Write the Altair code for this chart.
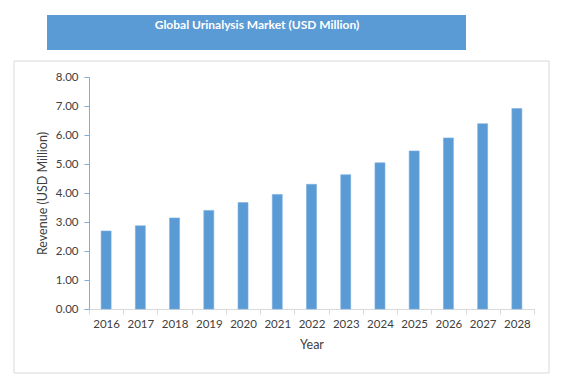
import altair as alt
import pandas as pd

years = ["2016", "2017", "2018", "2019", "2020", "2021", "2022",
         "2023", "2024", "2025", "2026", "2027", "2028"]
revenue = [2.69, 2.87, 3.14, 3.40, 3.67, 3.95, 4.30,
           4.63, 5.04, 5.45, 5.90, 6.39, 6.91]
y_ticks = [0, 1, 2, 3, 4, 5, 6, 7, 8]
chart_title = "Global Urinalysis Market (USD Million)"

df = pd.DataFrame({"Year": years, "Revenue": revenue})

FONT = "Lato"
BLUE = "#5B9BD5"
TEXT = "#404040"

bars = alt.Chart(df).mark_bar(color=BLUE, size=10, stroke="#7BAFE0", strokeWidth=0.6).encode(
    x=alt.X("Year:N", sort=years,
            scale=alt.Scale(paddingInner=0, paddingOuter=0),
            axis=alt.Axis(title="Year", labelAngle=0, tickBand="extent",
                          domainColor="#D9D9D9", tickColor="#D9D9D9", tickSize=5,
                          labelColor=TEXT, labelFont=FONT, labelFontSize=11.5,
                          labelPadding=4, titleFont=FONT, titleFontSize=12.5,
                          titleFontWeight="normal", titleColor=TEXT, titlePadding=9,
                          grid=False)),
    y=alt.Y("Revenue:Q", scale=alt.Scale(domain=[0, 8], nice=False),
            axis=alt.Axis(title="Revenue (USD Million)", values=y_ticks, format=".2f",
                          domainColor="#7FAEDC", tickColor="#7FAEDC", tickSize=5,
                          labelColor=TEXT, labelFont=FONT, labelFontSize=11.5,
                          labelPadding=6, titleFont=FONT, titleFontSize=12.5,
                          titleFontWeight="normal", titleColor=TEXT, titlePadding=6,
                          grid=False)),
)

one = alt.Data(values=[{"t": chart_title}])

border = alt.Chart(one).mark_rect(fill="white", fillOpacity=0, stroke="#D9D9D9", strokeWidth=1).encode(
    x=alt.value(-75), x2=alt.value(460), y=alt.value(-16), y2=alt.value(296)
)

banner = alt.Chart(one).mark_rect(fill=BLUE).encode(
    x=alt.value(-42), x2=alt.value(377), y=alt.value(-62), y2=alt.value(-27)
)

title_text = alt.Chart(one).mark_text(color="white", font=FONT, fontSize=12,
                                      fontWeight="bold", align="center", baseline="middle").encode(
    x=alt.value(168), y=alt.value(-52), text="t:N"
)

chart = alt.layer(border, bars, banner, title_text).properties(
    width=445, height=232,
    autosize=alt.AutoSizeParams(type="none"),
    padding={"left": 81, "top": 69, "right": 20, "bottom": 65},
).configure_view(stroke=None)

chart.save("out.html", embed_options={"renderer": "svg", "actions": False})
